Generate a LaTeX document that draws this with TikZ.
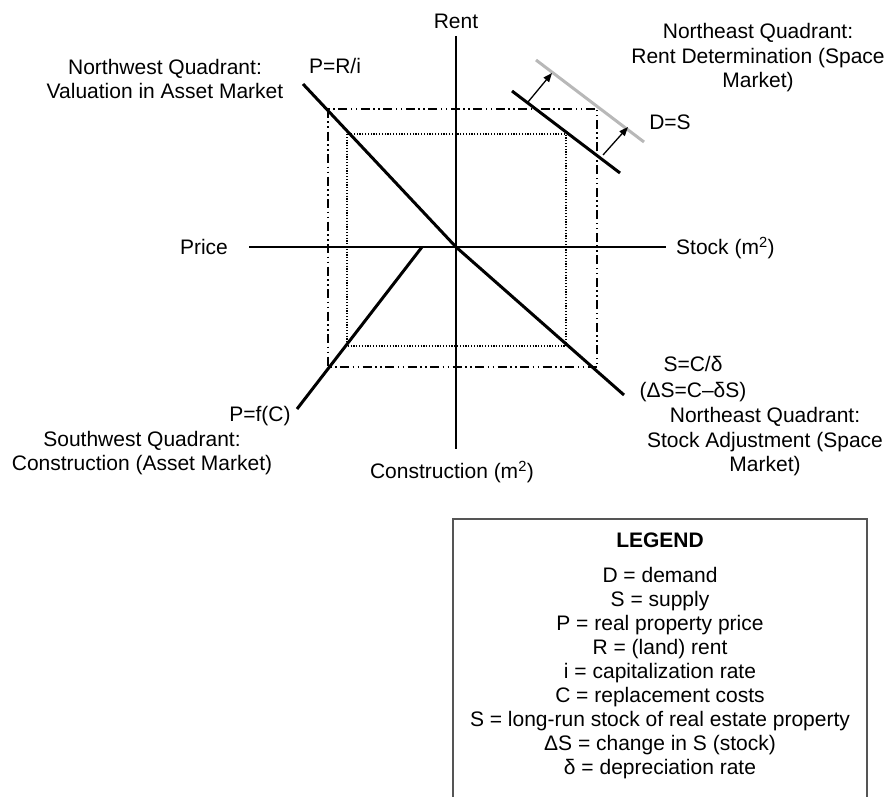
\documentclass[tikz,border=0pt]{standalone}
\usepackage{fontspec}
\setmainfont{Liberation Sans}
\usetikzlibrary{arrows.meta,positioning}
\definecolor{shiftgray}{HTML}{B8B8B8}
\definecolor{boxgray}{HTML}{555555}

\begin{document}
\begin{tikzpicture}[x=1pt, y=-1pt,
  lab/.style={inner sep=0pt, align=center, font=\fontsize{21}{24.5}\selectfont},
  axis/.style={line width=2pt, black},
  curve/.style={line width=3pt, black},
  chain/.style={line width=1.3pt, dash pattern=on 9pt off 3.5pt on 1.5pt off 3.5pt on 1.5pt off 3.5pt},
  dots/.style={line width=1.2pt, dash pattern=on 1.2pt off 1.6pt},
  arr/.style={-{Triangle[length=9pt, width=7pt]}, line width=1.3pt},
  legbox/.style={line width=2pt, boxgray}
]
  \useasboundingbox (0,0) rectangle (888,797);

  \coordinate (O) at (456,247);
  \coordinate (renttop) at (456,36);
  \coordinate (consbot) at (456,449);
  \coordinate (priceleft) at (249,247);
  \coordinate (stockright) at (666,247);
  \draw[axis] (renttop) -- (consbot);
  \draw[axis] (priceleft) -- (stockright);

  \coordinate (outerA) at (328,109);
  \coordinate (outerB) at (597,367);
  \coordinate (innerA) at (347,134);
  \coordinate (innerB) at (566,346);
  \draw[chain] (outerA) rectangle (outerB);
  \draw[dots] (innerA) rectangle (innerB);

  \coordinate (valend) at (303,84);
  \coordinate (stockend) at (624,395);
  \coordinate (consstart) at (422,247);
  \coordinate (consend) at (297,409);
  \draw[curve] (valend) -- (O);
  \draw[curve] (O) -- (stockend);
  \draw[curve] (consstart) -- (consend);

  \coordinate (demA) at (512,91);
  \coordinate (demB) at (620,173);
  \coordinate (newA) at (536,60);
  \coordinate (newB) at (644,142);
  \draw[line width=3pt, shiftgray] (newA) -- (newB);
  \draw[curve] (demA) -- (demB);
  \coordinate (shiftAfrom) at (528,102);
  \coordinate (shiftAto) at (552,73);
  \coordinate (shiftBfrom) at (603,155);
  \coordinate (shiftBto) at (628,127);
  \draw[arr] (shiftAfrom) -- (shiftAto);
  \draw[arr] (shiftBfrom) -- (shiftBto);

  \node[lab] (rentlab) at (456,21) {Rent};
  \node[lab] (pricelab) at (204,247) {Price};
  \node[lab, anchor=west] (stocklab) at (676,248) {Stock (m\textsuperscript{2})};
  \node[lab] (conslab) at (452,472) {Construction (m\textsuperscript{2})};

  \node[lab] (valeq) at (335,66) {P=R/i};
  \node[lab] (nwlab) at (165,79) {Northwest Quadrant:\\Valuation in Asset Market};
  \node[lab] (nelab) at (758,58) {Northeast Quadrant:\\Rent Determination (Space\\Market)};
  \node[lab] (dseq) at (670,122) {D=S};
  \node[lab] (stockeq) at (693,364) {S=C/δ};
  \node[lab] (deltaeq) at (693,392) {(ΔS=C–δS)};
  \node[lab] (selab) at (765,442) {Northeast Quadrant:\\Stock Adjustment (Space\\Market)};
  \node[lab] (conseq) at (260,416) {P=f(C)};
  \node[lab] (swlab) at (142,453) {Southwest Quadrant:\\Construction (Asset Market)};

  \coordinate (legBL) at (453,797);
  \coordinate (legTL) at (453,519);
  \coordinate (legTR) at (867,519);
  \coordinate (legBR) at (867,797);
  \draw[legbox] (legBL) -- (legTL) -- (legTR) -- (legBR);
  \node[lab, font=\fontsize{21}{24.5}\selectfont\bfseries] (leghead) at (660,540) {LEGEND};
  \node[lab, anchor=north, font=\fontsize{21}{24}\selectfont] (legtext) at (660,567) {D = demand\\S = supply\\P = real property price\\R = (land) rent\\i = capitalization rate\\C = replacement costs\\S = long-run stock of real estate property\\ΔS = change in S (stock)\\δ = depreciation rate};
\end{tikzpicture}
\end{document}
